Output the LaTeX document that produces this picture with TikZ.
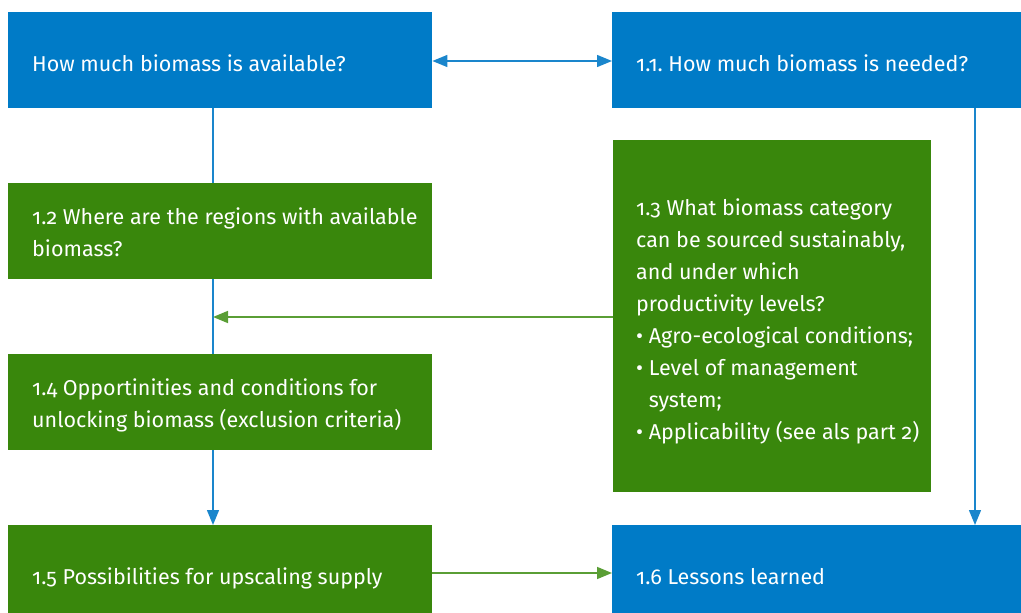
\documentclass[tikz,border=0pt]{standalone}
\usepackage{fontspec}
\setmainfont{Fira Sans}[Numbers=OldStyle]
\frenchspacing
\usetikzlibrary{arrows.meta,calc}
\definecolor{rblue}{HTML}{007BC7}
\definecolor{rgreen}{HTML}{39870C}
\definecolor{lblue}{HTML}{1A86CC}
\definecolor{lgreen}{HTML}{5A9E35}
\begin{document}
\begin{tikzpicture}[x=1pt,y=-1pt,
  txt/.style={anchor=base west, inner sep=0pt, text=white, align=left, font=\fontsize{21.5}{32}\selectfont},
  box/.style={anchor=north west, inner sep=0pt, minimum height=96pt},
  bluebox/.style={box, fill=rblue},
  greenbox/.style={box, fill=rgreen},
  wide/.style={minimum width=424pt},
  rwide/.style={minimum width=409pt},
  tip/.style={-{Triangle[length=15pt,width=12pt]}},
  bline/.style={draw=lblue, line width=1.4pt},
  gline/.style={draw=lgreen, line width=1.6pt}
]
\useasboundingbox (0,0) rectangle (1021,613);
\node[bluebox, wide] (A) at (8,12) {};
\node[bluebox, rwide] (B) at (612,12) {};
\node[greenbox, wide] (C) at (8,183) {};
\node[greenbox, wide] (E) at (8,354) {};
\node[greenbox, wide] (F) at (8,525) {};
\node[bluebox, rwide] (G) at (612,525) {};
\node[greenbox, minimum width=318pt, minimum height=352pt] (D) at (613,140) {};
\node[txt] (At) at ($(A.west)+(24,11)$) {How much biomass is available?};
\node[txt] (Bt) at ($(B.west)+(24,11)$) {1.1. How much biomass is needed?};
\node[txt] (Ct) at ($(C.west)+(24,25)$) {1.2 Where are the regions with available\\biomass?};
\node[txt] (Et) at ($(E.west)+(24,25)$) {1.4 Opportinities and conditions for\\unlocking biomass (exclusion criteria)};
\node[txt] (Ft) at ($(F.west)+(24,11)$) {1.5 Possibilities for upscaling supply};
\node[txt] (Gt) at ($(G.west)+(24,11)$) {1.6 Lessons learned};
\node[txt] (Dt) at ($(D.north west)+(23,299)$)
 {1.3 What biomass category\\can be sourced sustainably,\\and under which\\productivity levels?\\\textbullet\ Agro-ecological conditions;\\\textbullet\ Level of management\\\phantom{\textbullet\ }system;\\\textbullet\ Applicability (see als part 2)};
% connectors
\draw[bline, {Triangle[length=15pt,width=12pt]}-{Triangle[length=15pt,width=12pt]}] (A.east |- 0,61) -- (B.west |- 0,61);
\coordinate (J) at (213,317);
\draw[bline] (A.south -| J) -- (C.north -| J);
\draw[bline] (C.south -| J) -- (E.north -| J);
\draw[bline, tip] (E.south -| J) -- (F.north -| J);
\draw[gline, tip] (D.west |- J) -- (J);
\coordinate (K) at (975,0);
\draw[bline, tip] (B.south -| K) -- (G.north -| K);
\draw[gline, tip] (F.east |- 0,573) -- (G.west |- 0,573);
\end{tikzpicture}
\end{document}
